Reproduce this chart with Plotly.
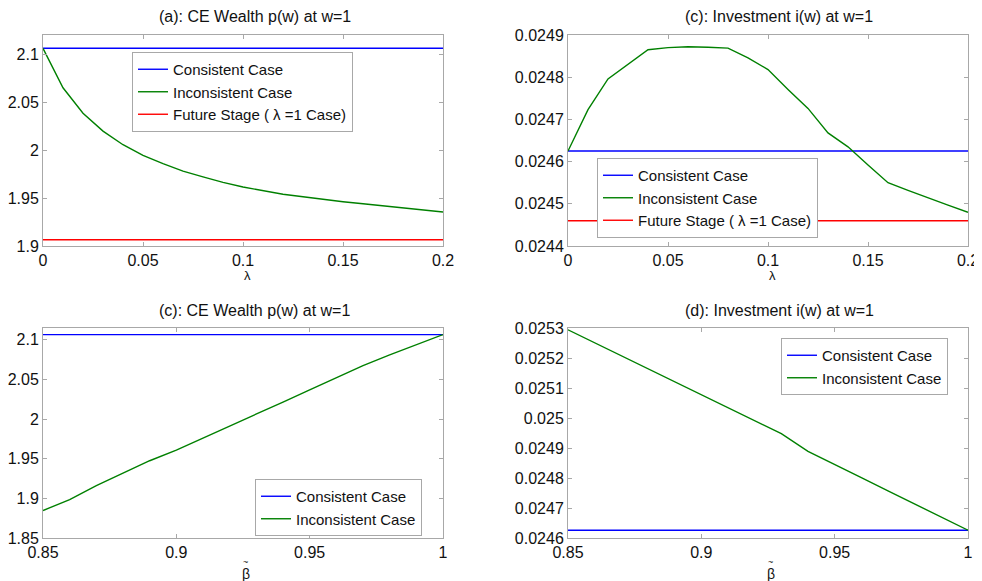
import plotly.graph_objects as go

# panel (a)/(b): lambda sweep
lam = [0, 0.01, 0.02, 0.03, 0.04, 0.05, 0.06, 0.07, 0.08, 0.09, 0.1,
       0.11, 0.12, 0.13, 0.14, 0.15, 0.16, 0.17, 0.18, 0.19, 0.2]
wealth_incons_lam = [2.106, 2.065, 2.0385, 2.0198, 2.0056, 1.9944, 1.9858, 1.978, 1.972, 1.9663, 1.9615,
                     1.9576, 1.954, 1.9514, 1.9486, 1.9462, 1.944, 1.942, 1.940, 1.938, 1.9354]
wealth_cons = 2.1062
wealth_future = 1.9065

inv_incons_lam = [0.024625, 0.024723, 0.024796, 0.024831, 0.024865, 0.02487, 0.024872, 0.024871,
                  0.024869, 0.024846, 0.024818, 0.024771, 0.024726, 0.024668, 0.024635, 0.024592,
                  0.02455, 0.024532, 0.024514, 0.024497, 0.02448]
inv_cons = 0.024625
inv_future = 0.02446

# panel (c)/(d): beta tilde sweep
beta = [0.85, 0.86, 0.87, 0.88, 0.89, 0.9, 0.91, 0.92, 0.93, 0.94, 0.95, 0.96, 0.97, 0.98, 0.99, 1.0]
wealth_incons_beta = [1.8847, 1.8985, 1.9161, 1.932, 1.9475, 1.9609, 1.976, 1.9906, 2.006, 2.0216,
                      2.037, 2.052, 2.0676, 2.081, 2.094, 2.1067]
wealth_cons_beta = 2.1067
inv_incons_beta = [0.025294, 0.025251, 0.025208, 0.025164, 0.025121, 0.025078, 0.025034, 0.024991,
                   0.024948, 0.024889, 0.024844, 0.024801, 0.024757, 0.024713, 0.024669, 0.024626]
inv_cons_beta = 0.024626

BLUE = '#0000ff'
GREEN = '#008000'
RED = '#ff0000'
AXIS = '#a8a8a8'
# the page body has an 8px margin, so the figure starts at (8, 8) in the window
OFF = 8
W, H = 982 - OFF, 581 - OFF


def px_x(p):
    return (p - OFF) / W


def px_y(p):
    return 1 - (p - OFF) / H


fig = go.Figure()

lam_ends = [lam[0], lam[-1]]
beta_ends = [beta[0], beta[-1]]

# (a)
fig.add_trace(go.Scatter(x=lam_ends, y=[wealth_cons] * 2, mode='lines', line=dict(color=BLUE, width=1.4),
                         name='Consistent Case', xaxis='x', yaxis='y', legend='legend'))
fig.add_trace(go.Scatter(x=lam, y=wealth_incons_lam, mode='lines', line=dict(color=GREEN, width=1.4),
                         name='Inconsistent Case', xaxis='x', yaxis='y', legend='legend'))
fig.add_trace(go.Scatter(x=lam_ends, y=[wealth_future] * 2, mode='lines', line=dict(color=RED, width=1.4),
                         name='Future Stage ( λ =1 Case)', xaxis='x', yaxis='y', legend='legend'))
# (b)
fig.add_trace(go.Scatter(x=lam_ends, y=[inv_cons] * 2, mode='lines', line=dict(color=BLUE, width=1.4),
                         name='Consistent Case', xaxis='x2', yaxis='y2', legend='legend2'))
fig.add_trace(go.Scatter(x=lam, y=inv_incons_lam, mode='lines', line=dict(color=GREEN, width=1.4),
                         name='Inconsistent Case', xaxis='x2', yaxis='y2', legend='legend2'))
fig.add_trace(go.Scatter(x=lam_ends, y=[inv_future] * 2, mode='lines', line=dict(color=RED, width=1.4),
                         name='Future Stage ( λ =1 Case)', xaxis='x2', yaxis='y2', legend='legend2'))
# (c)
fig.add_trace(go.Scatter(x=beta_ends, y=[wealth_cons_beta] * 2, mode='lines', line=dict(color=BLUE, width=1.4),
                         name='Consistent Case', xaxis='x3', yaxis='y3', legend='legend3'))
fig.add_trace(go.Scatter(x=beta, y=wealth_incons_beta, mode='lines', line=dict(color=GREEN, width=1.4),
                         name='Inconsistent Case', xaxis='x3', yaxis='y3', legend='legend3'))
# (d)
fig.add_trace(go.Scatter(x=beta_ends, y=[inv_cons_beta] * 2, mode='lines', line=dict(color=BLUE, width=1.4),
                         name='Consistent Case', xaxis='x4', yaxis='y4', legend='legend4'))
fig.add_trace(go.Scatter(x=beta, y=inv_incons_beta, mode='lines', line=dict(color=GREEN, width=1.4),
                         name='Inconsistent Case', xaxis='x4', yaxis='y4', legend='legend4'))

axis_style = dict(showline=True, linecolor=AXIS, linewidth=1, mirror='ticks', ticks='inside',
                  ticklen=4, tickcolor=AXIS, showgrid=False, zeroline=False, automargin=False,
                  tickfont=dict(size=16, color='#111111'))

dom_left = [px_x(43), px_x(443)]
dom_right = [px_x(568), px_x(968)]
dom_top = [px_y(246), px_y(35)]
dom_bot = [px_y(538), px_y(328)]

legend_style = dict(bgcolor='white', bordercolor=AXIS, borderwidth=1,
                    font=dict(size=15, color='#111111'), xanchor='left', yanchor='top',
                    tracegroupgap=0)

fig.update_layout(
    width=W, height=H,
    margin=dict(l=0, r=0, t=0, b=0),
    paper_bgcolor='white', plot_bgcolor='white',
    font=dict(family='Liberation Sans, Arial, sans-serif', size=15, color='#111111'),
    xaxis=dict(domain=dom_left, anchor='y', range=[0, 0.2], dtick=0.05, **axis_style),
    yaxis=dict(domain=dom_top, anchor='x', range=[1.9, 2.12], dtick=0.05, **axis_style),
    xaxis2=dict(domain=dom_right, anchor='y2', range=[0, 0.2], dtick=0.05, **axis_style),
    yaxis2=dict(domain=dom_top, anchor='x2', range=[0.0244, 0.0249], dtick=0.0001, **axis_style),
    xaxis3=dict(domain=dom_left, anchor='y3', range=[0.85, 1.0], dtick=0.05, **axis_style),
    yaxis3=dict(domain=dom_bot, anchor='x3', range=[1.85, 2.115], dtick=0.05, **axis_style),
    xaxis4=dict(domain=dom_right, anchor='y4', range=[0.85, 1.0], dtick=0.05, **axis_style),
    yaxis4=dict(domain=dom_bot, anchor='x4', range=[0.0246, 0.0253], dtick=0.0001, **axis_style),
    legend=dict(x=px_x(132), y=px_y(52), **legend_style),
    legend2=dict(x=px_x(597), y=px_y(158), **legend_style),
    legend3=dict(x=px_x(255), y=px_y(479), **legend_style),
    legend4=dict(x=px_x(781), y=px_y(338), **legend_style),
)

titles = [
    ('(a): CE Wealth p(w) at w=1', 255, 17),
    ('(c): Investment i(w) at w=1', 779, 17),
    ('(c): CE Wealth p(w) at w=1', 254, 310),
    ('(d): Investment i(w) at w=1', 779, 310),
]
for text, cx, cy in titles:
    fig.add_annotation(text=text, x=px_x(cx), y=px_y(cy), xref='paper', yref='paper',
                       showarrow=False, xanchor='center', yanchor='middle', font=dict(size=16))

# axis labels: lambda on top row, beta with a tilde on bottom row
for cx in (247, 772):
    fig.add_annotation(text='λ', x=px_x(cx), y=px_y(275), xref='paper', yref='paper',
                       showarrow=False, xanchor='center', yanchor='middle', font=dict(size=13))
for cx in (246, 771):
    fig.add_annotation(text='β', x=px_x(cx), y=px_y(574), xref='paper', yref='paper',
                       showarrow=False, xanchor='center', yanchor='middle', font=dict(size=14))
    fig.add_annotation(text='~', x=px_x(cx - 1), y=px_y(562), xref='paper', yref='paper',
                       showarrow=False, xanchor='center', yanchor='middle', font=dict(size=9))

fig.write_html("out.html")
